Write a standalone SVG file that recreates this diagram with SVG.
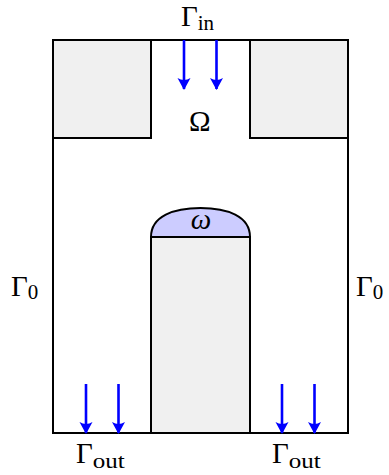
<svg xmlns="http://www.w3.org/2000/svg" width="389" height="475" viewBox="0 0 389 475">
<style>
.wall{fill:none;stroke:#000;stroke-width:2}
.solid{fill:#f0f0f0;stroke:#000;stroke-width:2}
.dome{fill:#ccccff;stroke:#000;stroke-width:2}
.flow{stroke:#0000ff;stroke-width:2.6;fill:none;marker-end:url(#ah)}
.lbl{font-family:"Liberation Serif","DejaVu Serif",serif;fill:#000;font-size:29px}
.sub{font-size:21px}
</style>
<defs>
<marker id="ah" markerUnits="userSpaceOnUse" markerWidth="16" markerHeight="16" viewBox="-12 -8 14 16" refX="0" refY="0" orient="auto">
<path d="M1,0 L-11,-6.5 Q-7,0 -11,6.5 Z" fill="#0000ff"/>
</marker>
</defs>
<rect width="389" height="475" fill="#fff"/>
<g id="domain">
<rect class="wall" x="53" y="40" width="295" height="393"/>
</g>
<g id="left-block"><rect class="solid" x="53" y="40" width="98" height="98"/></g>
<g id="right-block"><rect class="solid" x="250" y="40" width="98" height="98"/></g>
<g id="pillar"><rect class="solid" x="151" y="237" width="99" height="196"/></g>
<g id="omega-small"><path class="dome" d="M151,237 C151,216 174,208 200.5,208 C227,208 250,216 250,237 Z"/>
<text class="lbl" x="201" y="229" font-style="italic" font-size="23" text-anchor="middle">ω</text></g>
<g id="connectors">
<line class="flow" x1="184" y1="40" x2="184" y2="89"/>
<line class="flow" x1="216.5" y1="40" x2="216.5" y2="89"/>
<line class="flow" x1="86" y1="384" x2="86" y2="433"/>
<line class="flow" x1="118.5" y1="384" x2="118.5" y2="433"/>
<line class="flow" x1="282" y1="384" x2="282" y2="433"/>
<line class="flow" x1="314.5" y1="384" x2="314.5" y2="433"/>
</g>
<g id="labels">
<text class="lbl" x="181" y="26">Γ<tspan class="sub" dy="4">in</tspan></text>
<text class="lbl" x="189" y="131">Ω</text>
<text class="lbl" x="11" y="296">Γ<tspan class="sub" dy="3">0</tspan></text>
<text class="lbl" x="356" y="296">Γ<tspan class="sub" dy="3">0</tspan></text>
<text class="lbl" x="76" y="463">Γ<tspan class="sub" dy="5" textLength="32" lengthAdjust="spacingAndGlyphs">out</tspan></text>
<text class="lbl" x="272" y="463">Γ<tspan class="sub" dy="5" textLength="32" lengthAdjust="spacingAndGlyphs">out</tspan></text>
</g>
</svg>
